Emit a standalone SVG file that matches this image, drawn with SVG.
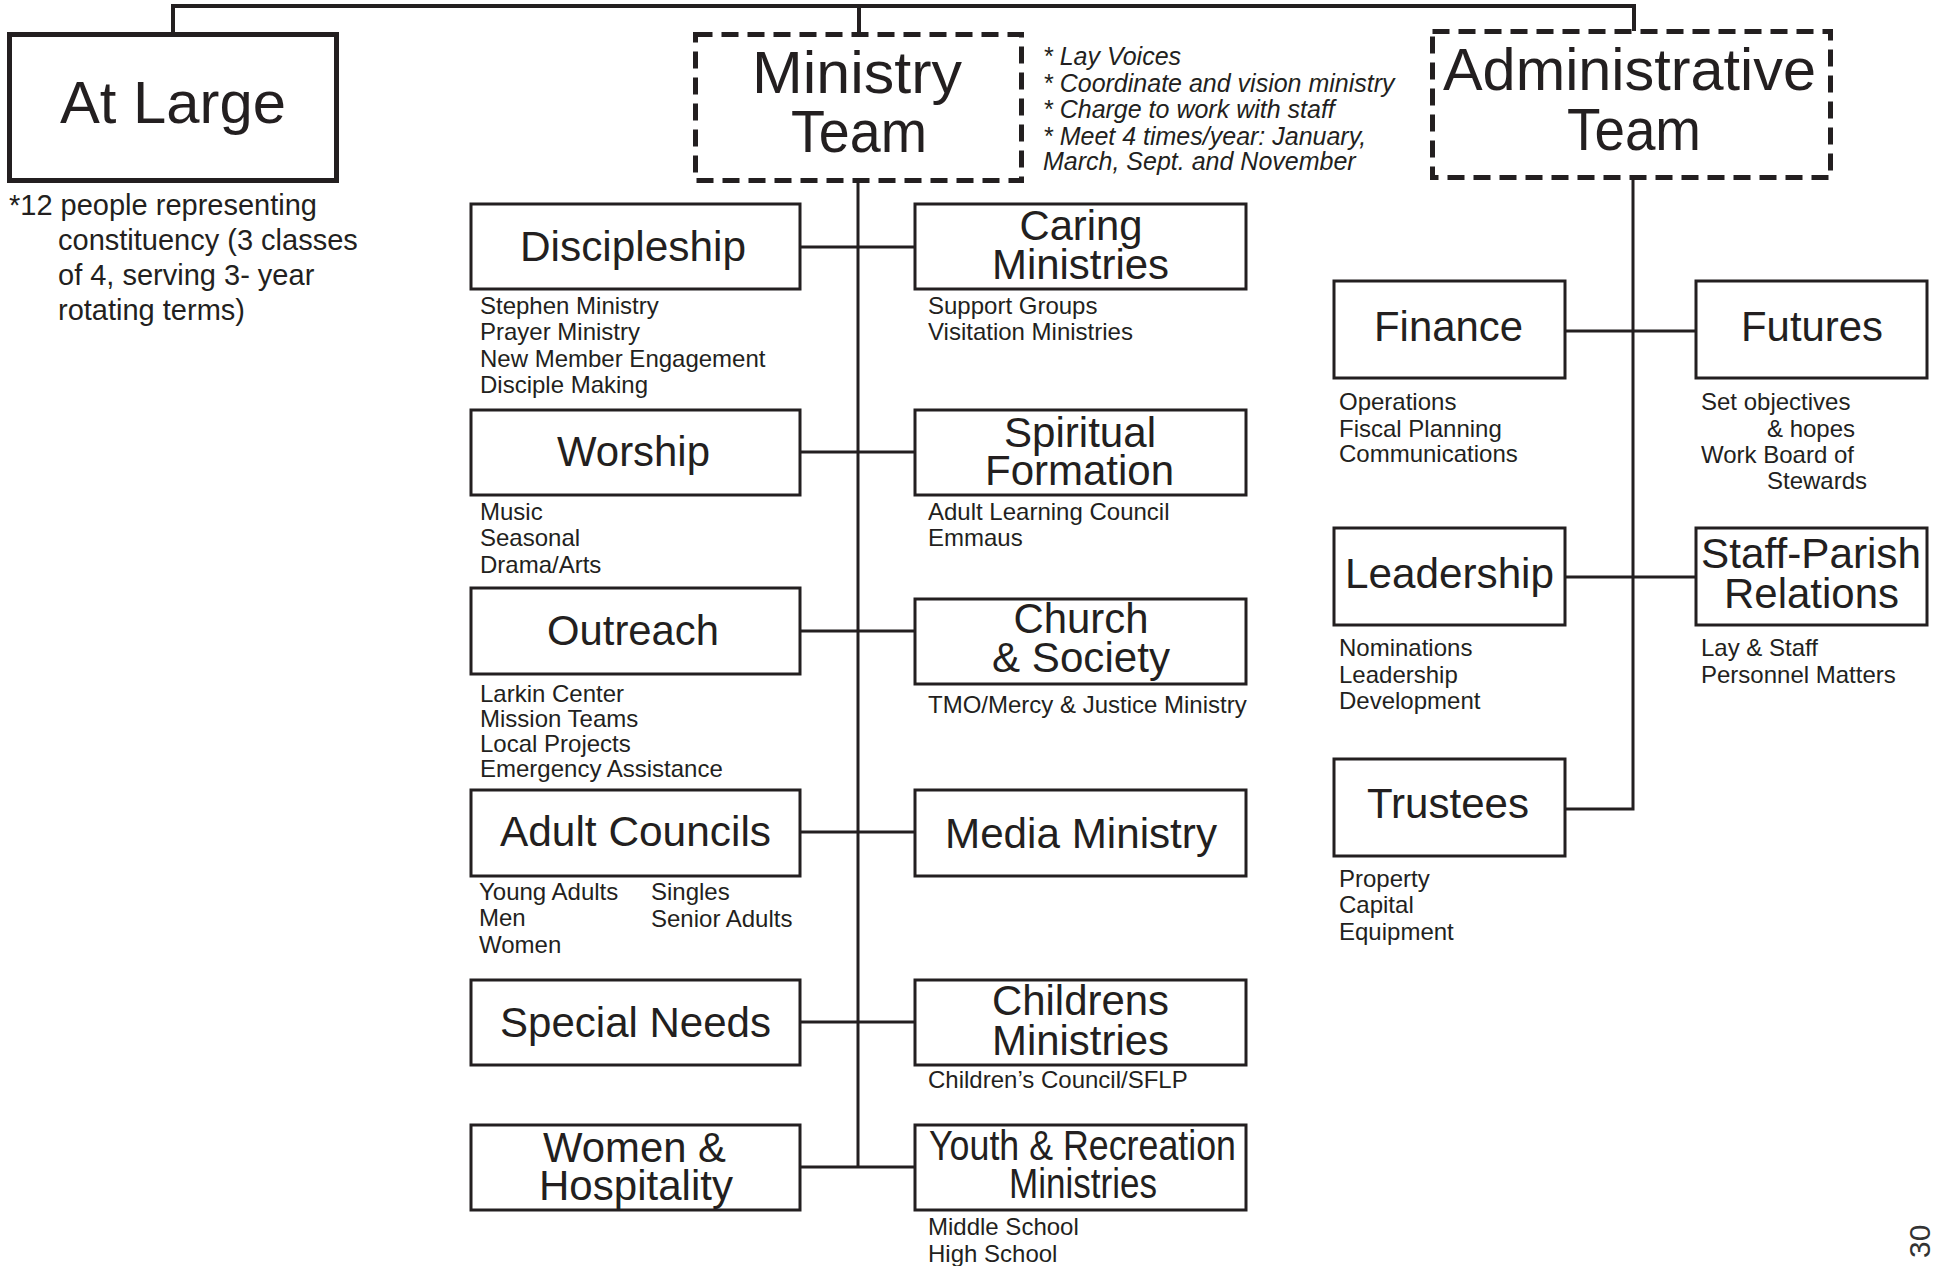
<svg xmlns="http://www.w3.org/2000/svg" width="1937" height="1266" viewBox="0 0 1937 1266">
<style>
.bg{fill:#fff}
.box{fill:#fff;stroke:#231f20;stroke-width:3}
.heavy{fill:#fff;stroke:#231f20;stroke-width:5}
.dash{fill:#fff;stroke:#231f20;stroke-width:5;stroke-dasharray:17 9}
.ln{fill:none;stroke:#231f20;stroke-width:3}
.top{fill:none;stroke:#231f20;stroke-width:4}
text{font-family:"Liberation Sans",Arial,Helvetica,sans-serif;fill:#231f20}
.big{font-size:60px;text-anchor:middle}
.title{font-size:42px;text-anchor:middle}
.sub{font-size:24px}
.note{font-size:29px}
.it{font-size:25px;font-style:italic}
.pg{font-size:30px;fill:#333}
</style>
<rect class="bg" x="0" y="0" width="1937" height="1266"/>
<g id="connectors">
<path class="top" d="M173,33 V6 H1634 V31"/>
<path class="top" d="M859,6 V32"/>
<path class="ln" d="M858,183 V1167"/>
<path class="ln" d="M800,247 H915 M800,452 H915 M800,631 H915 M800,832 H915 M800,1022 H915 M800,1167 H915"/>
<path class="ln" d="M1633,180 V809 H1566"/>
<path class="ln" d="M1566,331 H1695 M1566,577 H1695"/>
</g>
<g id="at-large">
<rect class="heavy" x="9.5" y="34.5" width="327" height="146"/>
<text class="big" x="173" y="123" textLength="226" lengthAdjust="spacingAndGlyphs">At Large</text>
<text class="note" x="9" y="215">*12 people representing</text>
<text class="note" x="58" y="250">constituency (3 classes</text>
<text class="note" x="58" y="285">of 4, serving 3- year</text>
<text class="note" x="58" y="320">rotating terms)</text>
</g>
<g id="ministry-team">
<rect class="dash" x="695.5" y="34.5" width="326" height="146"/>
<text class="big" x="857" y="93" textLength="210" lengthAdjust="spacingAndGlyphs">Ministry</text>
<text class="big" x="859" y="152" textLength="136" lengthAdjust="spacingAndGlyphs">Team</text>
<text class="it" x="1043" y="65">* Lay Voices</text>
<text class="it" x="1043" y="92">* Coordinate and vision ministry</text>
<text class="it" x="1043" y="118">* Charge to work with staff</text>
<text class="it" x="1043" y="145">* Meet 4 times/year: January,</text>
<text class="it" x="1043" y="170">March, Sept. and November</text>
</g>
<g id="administrative-team">
<rect class="dash" x="1432.5" y="31.5" width="398" height="146"/>
<text class="big" x="1629.5" y="90" textLength="373" lengthAdjust="spacingAndGlyphs">Administrative</text>
<text class="big" x="1634" y="150" textLength="134" lengthAdjust="spacingAndGlyphs">Team</text>
</g>
<g id="discipleship">
<rect class="box" x="471" y="204" width="329" height="85"/>
<text class="title" x="633" y="261" textLength="226" lengthAdjust="spacingAndGlyphs">Discipleship</text>
<text class="sub" x="480" y="314">Stephen Ministry</text>
<text class="sub" x="480" y="340">Prayer Ministry</text>
<text class="sub" x="480" y="367">New Member Engagement</text>
<text class="sub" x="480" y="393">Disciple Making</text>
</g>
<g id="caring-ministries">
<rect class="box" x="915" y="204" width="331" height="85"/>
<text class="title" x="1081" y="240" textLength="123" lengthAdjust="spacingAndGlyphs">Caring</text>
<text class="title" x="1080.5" y="279" textLength="177" lengthAdjust="spacingAndGlyphs">Ministries</text>
<text class="sub" x="928" y="314">Support Groups</text>
<text class="sub" x="928" y="340">Visitation Ministries</text>
</g>
<g id="worship">
<rect class="box" x="471" y="410" width="329" height="85"/>
<text class="title" x="633.5" y="466" textLength="153" lengthAdjust="spacingAndGlyphs">Worship</text>
<text class="sub" x="480" y="520">Music</text>
<text class="sub" x="480" y="546">Seasonal</text>
<text class="sub" x="480" y="573">Drama/Arts</text>
</g>
<g id="spiritual-formation">
<rect class="box" x="915" y="410" width="331" height="85"/>
<text class="title" x="1080" y="447" textLength="152" lengthAdjust="spacingAndGlyphs">Spiritual</text>
<text class="title" x="1079.5" y="485" textLength="189" lengthAdjust="spacingAndGlyphs">Formation</text>
<text class="sub" x="928" y="520">Adult Learning Council</text>
<text class="sub" x="928" y="546">Emmaus</text>
</g>
<g id="outreach">
<rect class="box" x="471" y="588" width="329" height="86"/>
<text class="title" x="633" y="645" textLength="172" lengthAdjust="spacingAndGlyphs">Outreach</text>
<text class="sub" x="480" y="702">Larkin Center</text>
<text class="sub" x="480" y="727">Mission Teams</text>
<text class="sub" x="480" y="752">Local Projects</text>
<text class="sub" x="480" y="777">Emergency Assistance</text>
</g>
<g id="church-society">
<rect class="box" x="915" y="599" width="331" height="85"/>
<text class="title" x="1081" y="633" textLength="135" lengthAdjust="spacingAndGlyphs">Church</text>
<text class="title" x="1081" y="672" textLength="178" lengthAdjust="spacingAndGlyphs">&amp; Society</text>
<text class="sub" x="928" y="713">TMO/Mercy &amp; Justice Ministry</text>
</g>
<g id="adult-councils">
<rect class="box" x="471" y="790" width="329" height="86"/>
<text class="title" x="635.5" y="846" textLength="271" lengthAdjust="spacingAndGlyphs">Adult Councils</text>
<text class="sub" x="479" y="900">Young Adults</text>
<text class="sub" x="479" y="926">Men</text>
<text class="sub" x="479" y="953">Women</text>
<text class="sub" x="651" y="900">Singles</text>
<text class="sub" x="651" y="927">Senior Adults</text>
</g>
<g id="media-ministry">
<rect class="box" x="915" y="790" width="331" height="86"/>
<text class="title" x="1081" y="848" textLength="272" lengthAdjust="spacingAndGlyphs">Media Ministry</text>
</g>
<g id="special-needs">
<rect class="box" x="471" y="980" width="329" height="85"/>
<text class="title" x="635.5" y="1037" textLength="271" lengthAdjust="spacingAndGlyphs">Special Needs</text>
</g>
<g id="childrens-ministries">
<rect class="box" x="915" y="980" width="331" height="85"/>
<text class="title" x="1080.5" y="1015" textLength="177" lengthAdjust="spacingAndGlyphs">Childrens</text>
<text class="title" x="1080.5" y="1055" textLength="177" lengthAdjust="spacingAndGlyphs">Ministries</text>
<text class="sub" x="928" y="1088">Children’s Council/SFLP</text>
</g>
<g id="women-hospitality">
<rect class="box" x="471" y="1125" width="329" height="85"/>
<text class="title" x="634.5" y="1162" textLength="183" lengthAdjust="spacingAndGlyphs">Women &amp;</text>
<text class="title" x="636" y="1200" textLength="194" lengthAdjust="spacingAndGlyphs">Hospitality</text>
</g>
<g id="youth-recreation">
<rect class="box" x="915" y="1125" width="331" height="85"/>
<text class="title" x="1082.5" y="1160" textLength="307" lengthAdjust="spacingAndGlyphs">Youth &amp; Recreation</text>
<text class="title" x="1083" y="1198" textLength="148" lengthAdjust="spacingAndGlyphs">Ministries</text>
<text class="sub" x="928" y="1235">Middle School</text>
<text class="sub" x="928" y="1262">High School</text>
</g>
<g id="finance">
<rect class="box" x="1334" y="281" width="231" height="97"/>
<text class="title" x="1448.5" y="341" textLength="149" lengthAdjust="spacingAndGlyphs">Finance</text>
<text class="sub" x="1339" y="410">Operations</text>
<text class="sub" x="1339" y="437">Fiscal Planning</text>
<text class="sub" x="1339" y="462">Communications</text>
</g>
<g id="futures">
<rect class="box" x="1696" y="281" width="231" height="97"/>
<text class="title" x="1812" y="341" textLength="142" lengthAdjust="spacingAndGlyphs">Futures</text>
<text class="sub" x="1701" y="410">Set objectives</text>
<text class="sub" x="1767" y="437">&amp; hopes</text>
<text class="sub" x="1701" y="463">Work Board of</text>
<text class="sub" x="1767" y="489">Stewards</text>
</g>
<g id="leadership">
<rect class="box" x="1334" y="528" width="231" height="97"/>
<text class="title" x="1449.5" y="588" textLength="209" lengthAdjust="spacingAndGlyphs">Leadership</text>
<text class="sub" x="1339" y="656">Nominations</text>
<text class="sub" x="1339" y="683">Leadership</text>
<text class="sub" x="1339" y="709">Development</text>
</g>
<g id="staff-parish">
<rect class="box" x="1696" y="528" width="231" height="97"/>
<text class="title" x="1811" y="568" textLength="220" lengthAdjust="spacingAndGlyphs">Staff-Parish</text>
<text class="title" x="1811.5" y="608" textLength="175" lengthAdjust="spacingAndGlyphs">Relations</text>
<text class="sub" x="1701" y="656">Lay &amp; Staff</text>
<text class="sub" x="1701" y="683">Personnel Matters</text>
</g>
<g id="trustees">
<rect class="box" x="1334" y="759" width="231" height="97"/>
<text class="title" x="1448" y="818" textLength="162" lengthAdjust="spacingAndGlyphs">Trustees</text>
<text class="sub" x="1339" y="887">Property</text>
<text class="sub" x="1339" y="913">Capital</text>
<text class="sub" x="1339" y="940">Equipment</text>
</g>
<text class="pg" transform="translate(1930,1258) rotate(-90)">30</text>
</svg>
